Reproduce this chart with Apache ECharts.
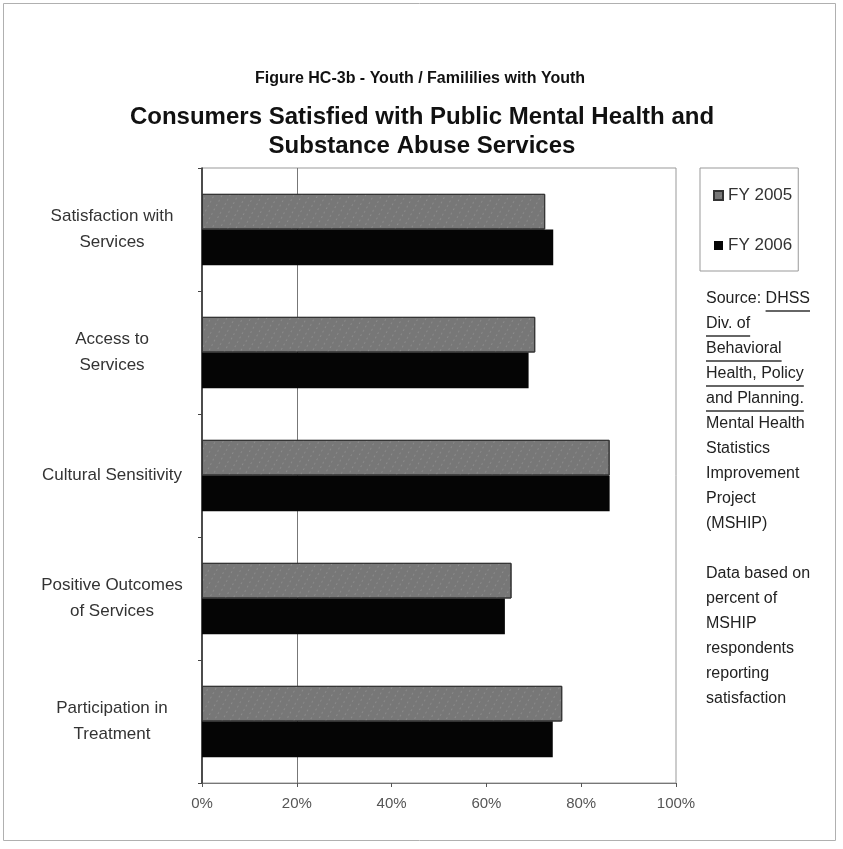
<!DOCTYPE html>
<html>
<head>
<meta charset="utf-8">
<script src="https://cdn.jsdelivr.net/npm/echarts@6/dist/echarts.min.js"></script>
<style>
  html, body { margin: 0; padding: 0; background: #fff; }
  #chart { width: 843px; height: 849px; }
</style>
</head>
<body>
<div id="chart"></div>
<script>
// Survey areas, top to bottom
const categories = [
  'Satisfaction with\nServices',
  'Access to\nServices',
  'Cultural Sensitivity',
  'Positive Outcomes\nof Services',
  'Participation in\nTreatment'
];
const seriesNames = ['FY 2005', 'FY 2006'];
// Percent of respondents reporting satisfaction
const fy2005 = [72.4, 70.3, 86.0, 65.3, 76.0];
const fy2006 = [74.1, 68.9, 86.0, 63.9, 74.0];
const xTicks = [0, 20, 40, 60, 80, 100];

const titleText = 'Figure HC-3b - Youth / Famililies with Youth';
const subtitleLines = [
  'Consumers Satisfied with Public Mental Health and',
  'Substance Abuse Services'
];

// Side note; entries flagged true are underlined
const noteLines = [
  [['Source: ', false], ['DHSS', true]],
  [['Div. of', true]],
  [['Behavioral', true]],
  [['Health, Policy', true]],
  [['and Planning.', true]],
  [['Mental Health', false]],
  [['Statistics', false]],
  [['Improvement', false]],
  [['Project', false]],
  [['(MSHIP)', false]],
  [['', false]],
  [['Data based on', false]],
  [['percent of', false]],
  [['MSHIP', false]],
  [['respondents', false]],
  [['reporting', false]],
  [['satisfaction', false]]
];

const FONT = '"Liberation Sans", Arial, sans-serif';
const chart = echarts.init(document.getElementById('chart'));

// Measure text so underlines fit their words
const ctx = document.createElement('canvas').getContext('2d');
const noteFont = '16px ' + FONT;
ctx.font = noteFont;

const graphics = [
  {
    type: 'rect', left: 1, top: 1, silent: true,
    shape: { width: 832, height: 837 },
    style: { fill: 'none', stroke: '#b0b0b0', lineWidth: 1 }
  },
  {
    type: 'text', x: 420, y: 79, silent: true,
    style: {
      text: titleText, font: 'bold 16px ' + FONT, fill: '#111',
      textAlign: 'center', textVerticalAlign: 'middle'
    }
  }
];
subtitleLines.forEach((line, i) => {
  graphics.push({
    type: 'text', x: 422, y: 117 + i * 29, silent: true,
    style: {
      text: line, font: 'bold 24px ' + FONT, fill: '#111',
      textAlign: 'center', textVerticalAlign: 'middle'
    }
  });
});

const noteX = 706, noteY = 291, noteLH = 25;
noteLines.forEach((parts, i) => {
  let x = noteX;
  const y = noteY + i * noteLH;
  parts.forEach(([txt, under]) => {
    if (!txt) return;
    const w = ctx.measureText(txt).width;
    graphics.push({
      type: 'text', left: x, top: y, silent: true,
      style: { text: txt, font: noteFont, fill: '#222' }
    });
    if (under) {
      graphics.push({
        type: 'line', silent: true,
        shape: { x1: x, y1: y + 20, x2: x + w, y2: y + 20 },
        style: { stroke: '#333', lineWidth: 1.3 }
      });
    }
    x += w;
  });
});

const clear = 'rgba(0,0,0,0)';
const option = {
  backgroundColor: '#fff',
  animation: false,
  textStyle: { fontFamily: FONT },
  legend: {
    data: seriesNames,
    orient: 'vertical',
    left: 700, top: 168,
    padding: [19, 6, 17, 13],
    itemGap: 33,
    itemWidth: 9, itemHeight: 9,
    icon: 'rect',
    borderColor: '#999', borderWidth: 1,
    textStyle: { fontSize: 17, color: '#333', fontFamily: FONT }
  },
  grid: {
    left: 202, right: 167, top: 168, bottom: 66,
    show: true, borderColor: '#999', borderWidth: 1
  },
  xAxis: {
    type: 'value',
    min: xTicks[0], max: xTicks[xTicks.length - 1], interval: 20,
    axisLine: { show: true, lineStyle: { color: '#777' } },
    axisTick: { show: true, length: 4, lineStyle: { color: '#555' } },
    axisLabel: {
      formatter: '{value}%', fontSize: 15, color: '#555', margin: 13, fontFamily: FONT
    },
    splitLine: {
      show: true,
      lineStyle: { color: [clear, '#777', clear, clear, clear, clear], width: 1 }
    }
  },
  yAxis: {
    type: 'category',
    data: categories,
    inverse: true,
    axisLine: { show: true, lineStyle: { color: '#222', width: 1.5 } },
    axisTick: { show: true, length: 4, lineStyle: { color: '#444' } },
    axisLabel: {
      align: 'center', margin: 90, fontSize: 17, lineHeight: 26,
      color: '#333', fontFamily: FONT
    }
  },
  series: [
    {
      name: seriesNames[0], type: 'bar', data: fy2005,
      barCategoryGap: '42%', barGap: '0%',
      itemStyle: {
        color: '#777777', borderColor: '#333', borderWidth: 1,
        decal: {
          symbol: 'circle', symbolSize: 0.5,
          color: 'rgba(210,210,210,0.55)',
          dashArrayX: [3, 4], dashArrayY: [2, 3], rotation: 0.5
        }
      }
    },
    {
      name: seriesNames[1], type: 'bar', data: fy2006,
      barCategoryGap: '42%', barGap: '0%',
      itemStyle: { color: '#050505' }
    }
  ],
  graphic: graphics
};
chart.setOption(option);
</script>
</body>
</html>
